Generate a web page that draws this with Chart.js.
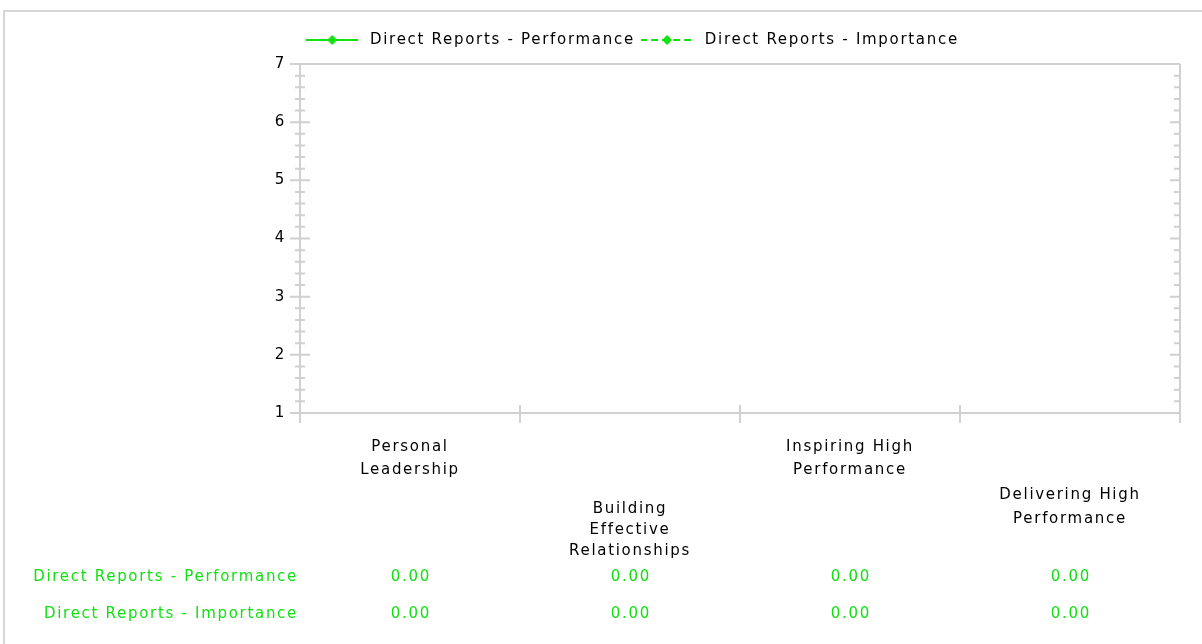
<!DOCTYPE html>
<html>
<head>
<meta charset="utf-8">
<title>Direct Reports - Performance vs Importance</title>
<script src="https://cdn.jsdelivr.net/npm/chart.js@4.4.1/dist/chart.umd.min.js"></script>
<style>
  html, body { margin: 0; padding: 0; background: #fff; }
  #wrap { position: relative; width: 1202px; height: 644px; overflow: hidden; }
  #frame { position: absolute; left: 3px; top: 10px; right: -4px; bottom: -4px;
           border-top: 2px solid #d6d6d6; border-left: 2px solid #d6d6d6; }
  canvas { position: absolute; left: 0; top: 0; }
</style>
</head>
<body>
<div id="wrap">
  <div id="frame"></div>
  <canvas id="chart" width="1202" height="644"></canvas>
</div>
<script>
// ---- data ----
const categories = [
  'Personal Leadership',
  'Building Effective Relationships',
  'Inspiring High Performance',
  'Delivering High Performance'
];
const seriesNames = ['Direct Reports - Performance', 'Direct Reports - Importance'];
const performance = [0, 0, 0, 0];
const importance = [0, 0, 0, 0];
const yTickLabels = [1, 2, 3, 4, 5, 6, 7];

// ---- style ----
const FONT = 'DejaVu Sans';
const FONT_SIZE = 15;
const GREEN = '#11e011';
const AXIS = '#d0d0d0';
const TRACK = 1.7;                      // letter spacing of all chart text, px
const LEGEND_GAP = 6.5;                 // space between legend row and plot frame
const blankLines = [0, 3, 0, 2];        // staggering of the category labels
const labelLineHeights = [23, 21, 23, 23.8];

// break a category name into lines of at most maxChars characters
function wrap(text, maxChars) {
  const lines = [];
  let cur = '';
  text.split(' ').forEach(w => {
    if (cur && (cur + ' ' + w).length > maxChars) { lines.push(cur); cur = w; }
    else cur = cur ? cur + ' ' + w : w;
  });
  if (cur) lines.push(cur);
  return lines;
}

// legend symbol: line segment with a diamond marker
function legendSwatch(dash) {
  const c = document.createElement('canvas');
  c.width = 52; c.height = 12;
  const g = c.getContext('2d');
  g.strokeStyle = GREEN;
  g.lineWidth = 2;
  if (dash) { g.setLineDash(dash); g.lineDashOffset = 1; }
  g.beginPath(); g.moveTo(0, 6); g.lineTo(52, 6); g.stroke();
  g.setLineDash([]);
  g.fillStyle = GREEN;
  g.beginPath();
  g.moveTo(26, 1); g.lineTo(31, 6); g.lineTo(26, 11); g.lineTo(21, 6);
  g.closePath(); g.fill();
  return c;
}

// apply letter spacing to every text the chart measures or draws
const tracking = {
  id: 'tracking',
  beforeUpdate(chart) { chart.ctx.letterSpacing = TRACK + 'px'; },
  beforeLayout(chart) { chart.ctx.letterSpacing = TRACK + 'px'; },
  beforeDraw(chart) { chart.ctx.letterSpacing = TRACK + 'px'; }
};

// lift the legend row a little above the plot frame
const legendGap = {
  id: 'legendGap',
  afterLayout(chart) {
    const l = chart.legend;
    if (l) { l.top -= LEGEND_GAP; l.bottom -= LEGEND_GAP; }
  }
};

// plot frame with major / minor tick marks
const axisFrame = {
  id: 'axisFrame',
  afterDraw(chart) {
    const { ctx, chartArea: a, scales: { x, y } } = chart;
    ctx.save();
    ctx.strokeStyle = AXIS;
    ctx.lineWidth = 2;
    ctx.beginPath();
    const seg = (x1, y1, x2, y2) => { ctx.moveTo(x1, y1); ctx.lineTo(x2, y2); };
    seg(a.left, a.top, a.right, a.top);
    seg(a.left, a.bottom, a.right, a.bottom);
    seg(a.left, a.top, a.left, a.bottom + 10);
    seg(a.right, a.top, a.right, a.bottom + 10);
    const minor = 5;
    const steps = Math.round((y.max - y.min) * minor);
    for (let k = 0; k <= steps; k++) {
      const py = y.getPixelForValue(y.min + k / minor);
      const major = k % minor === 0;
      seg(a.left - (major ? 10 : 5), py, a.left + (major ? 10 : 5), py);
      seg(a.right - (major ? 10 : 6), py, a.right, py);
    }
    for (let i = 1; i < x.ticks.length; i++) {
      const px = (x.getPixelForValue(i - 1) + x.getPixelForValue(i)) / 2;
      seg(px, a.bottom - 8, px, a.bottom + 10);
    }
    ctx.stroke();
    ctx.restore();
  }
};

// value table under the category labels
const dataTable = {
  id: 'dataTable',
  afterDraw(chart) {
    const { ctx, chartArea: a, scales: { x } } = chart;
    ctx.save();
    ctx.letterSpacing = TRACK + 'px';
    ctx.font = FONT_SIZE + 'px "' + FONT + '"';
    ctx.fillStyle = GREEN;
    ctx.textBaseline = 'middle';
    chart.data.datasets.forEach((ds, r) => {
      const py = a.bottom + 164 + r * 37;
      ctx.textAlign = 'right';
      ctx.fillText(ds.label, a.left - 2, py);
      ctx.textAlign = 'center';
      ds.data.forEach((v, i) => ctx.fillText(v.toFixed(2), x.getPixelForValue(i) + TRACK / 2, py));
    });
    ctx.restore();
  }
};

const datasets = [
  { label: seriesNames[0], data: performance, borderDash: [] },
  { label: seriesNames[1], data: importance, borderDash: [7, 4] }
].map(d => Object.assign({
  borderColor: GREEN,
  backgroundColor: GREEN,
  pointBackgroundColor: GREEN,
  pointBorderColor: GREEN,
  borderWidth: 2,
  pointStyle: 'rectRot',
  pointRadius: 5
}, d));

new Chart(document.getElementById('chart'), {
  type: 'line',
  data: { labels: categories, datasets },
  options: {
    responsive: false,
    animation: false,
    devicePixelRatio: 1,
    layout: { padding: { left: 0, right: 22, top: 25.5, bottom: 0 } },
    plugins: {
      tooltip: { enabled: false },
      legend: {
        position: 'top',
        fullSize: false,
        align: 'start',
        labels: {
          usePointStyle: true,
          pointStyleWidth: 60.5,
          padding: 2,
          color: '#000',
          font: { family: FONT, size: FONT_SIZE },
          generateLabels: chart => chart.data.datasets.map((ds, i) => ({
            text: ds.label,
            datasetIndex: i,
            pointStyle: legendSwatch(ds.borderDash && ds.borderDash.length ? ds.borderDash : null),
            fillStyle: GREEN,
            strokeStyle: GREEN,
            lineWidth: 0,
            hidden: false,
            fontColor: '#000'
          }))
        }
      }
    },
    scales: {
      x: {
        offset: true,
        grid: { display: false, drawTicks: false },
        border: { display: false },
        ticks: {
          autoSkip: false,
          maxRotation: 0,
          minRotation: 0,
          padding: 22.5,
          color: '#000',
          font: ctx => ({ family: FONT, size: FONT_SIZE, lineHeight: (labelLineHeights[ctx.index] ?? 23) + 'px' }),
          callback: (v, i) => Array(blankLines[i]).fill('').concat(wrap(categories[i], 15))
        },
        afterFit: s => { s.height = 231; }
      },
      y: {
        min: yTickLabels[0],
        max: yTickLabels[yTickLabels.length - 1],
        grid: { display: false, drawTicks: false },
        border: { display: false },
        ticks: { stepSize: 1, padding: 14, color: '#000', font: { family: FONT, size: FONT_SIZE } },
        afterFit: s => { s.width = 300; s.paddingTop = 64; }
      }
    }
  },
  plugins: [tracking, legendGap, axisFrame, dataTable]
});
</script>
</body>
</html>
